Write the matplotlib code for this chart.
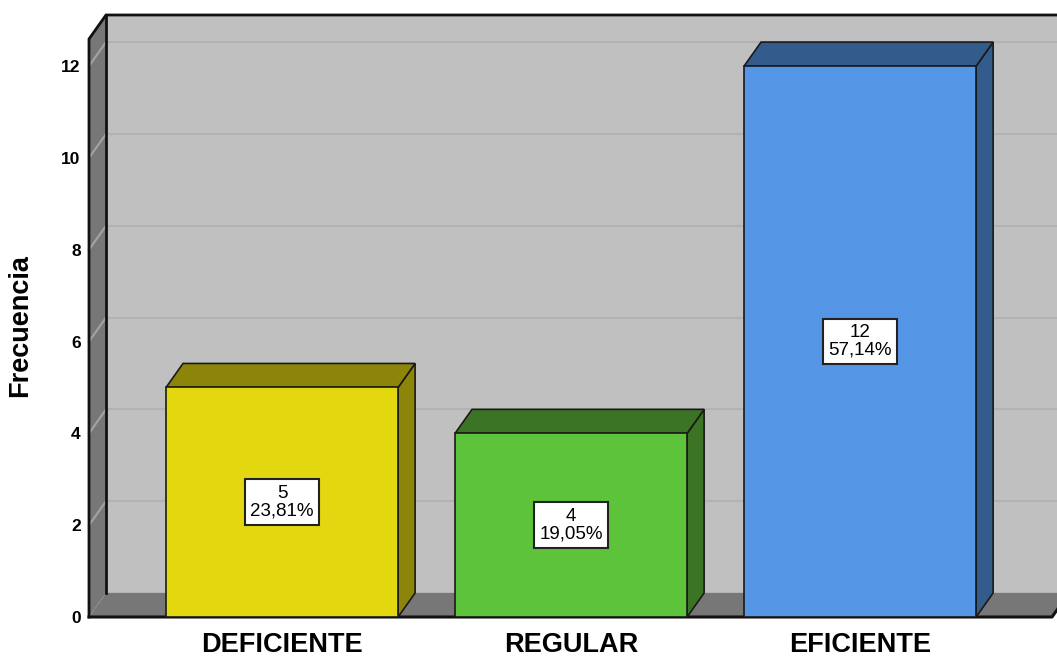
import matplotlib
matplotlib.use('Agg')
from matplotlib import pyplot as plt
from matplotlib import transforms as mtransforms
from matplotlib.patches import Polygon, Rectangle

# datos
categorias = ['DEFICIENTE', 'REGULAR', 'EFICIENTE']
frecuencias = [5, 4, 12]
ticks_y = [0, 2, 4, 6, 8, 10, 12]

color_frente = ['#E3D70F', '#5CC33A', '#5596E6']
color_lado = ['#8C850A', '#3A7424', '#335B8C']

total = sum(frecuencias)
porcentajes = [f * 100 / total for f in frecuencias]

fig = plt.figure(figsize=(10.57, 6.57), dpi=100)
ax = fig.add_axes([89 / 1057, 40 / 657, 963 / 1057, 578 / 657])
xmin, xmax = -0.668, 2.664
ymax = 12.59
ax.set_xlim(xmin, xmax)
ax.set_ylim(0, ymax)

# profundidad 3D (pixeles -> datos)
inv = ax.transData.inverted()
p0 = ax.transData.transform((0, 0))
dx, dy = inv.transform(p0 + [17, 24]) - inv.transform(p0)

pared = '#777777'
fondo = '#C0C0C0'

# pared del fondo
ax.add_patch(Rectangle((xmin + dx, dy), (xmax - xmin) + 1, ymax, facecolor=fondo,
                       edgecolor='none', zorder=0, clip_on=False))
for v in ticks_y[1:]:
    ax.plot([xmin + dx, xmax + dx + 1], [v + dy, v + dy], color='#B2B2B2', lw=1.5,
            zorder=1, clip_on=False)
    ax.plot([xmin, xmin + dx], [v, v + dy], color='#A3A3A3', lw=1.5, zorder=2.2,
            clip_on=False)
ax.plot([xmin + dx, xmax + dx + 1], [dy, dy], color='#8A8A8A', lw=1, zorder=1, clip_on=False)

# pared izquierda y piso
ax.add_patch(Polygon([(xmin, 0), (xmin, ymax), (xmin + dx, ymax + dy), (xmin + dx, dy)],
                     facecolor=pared, edgecolor='none', zorder=2, clip_on=False))
ax.add_patch(Polygon([(xmin, 0), (xmax, 0), (xmax + dx, dy), (xmin + dx, dy)],
                     facecolor=pared, edgecolor='none', zorder=2, clip_on=False))

# bordes
ax.plot([xmin, xmin, xmin + dx, xmax + dx + 1], [0, ymax, ymax + dy, ymax + dy],
        color='#111111', lw=2, zorder=2.3, clip_on=False, solid_joinstyle='miter')
ax.plot([xmin + dx, xmin + dx], [dy, ymax + dy], color='#111111', lw=2, zorder=2.3,
        clip_on=False)
ax.plot([xmin, xmax, xmax + dx], [0, 0, dy], color='#111111', lw=2.2, zorder=2.3,
        clip_on=False)

# barras
ancho = 0.803
xs = list(range(len(categorias)))
ax.bar(xs, frecuencias, width=ancho, color=color_frente, edgecolor='#1A1A1A', lw=1.2,
       zorder=4)
for x, v, c in zip(xs, frecuencias, color_lado):
    izq, der = x - ancho / 2, x + ancho / 2
    ax.add_patch(Polygon([(der, 0), (der, v), (der + dx, v + dy), (der + dx, dy)],
                         facecolor=c, edgecolor='#1A1A1A', lw=1.2, zorder=3,
                         clip_on=False))
    ax.add_patch(Polygon([(izq, v), (der, v), (der + dx, v + dy), (izq + dx, v + dy)],
                         facecolor=c, edgecolor='#1A1A1A', lw=1.2, zorder=3,
                         clip_on=False))

for x, v, p in zip(xs, frecuencias, porcentajes):
    txt = f"{v}\n{p:.2f}%".replace('.', ',')
    ax.text(x, v / 2, txt, ha='center', va='center', fontsize=13.5,
            family='Liberation Sans', linespacing=1.05, zorder=6,
            bbox=dict(boxstyle='square,pad=0.3', facecolor='white',
                      edgecolor='#222222', lw=1.5))

# ejes
for s in ax.spines.values():
    s.set_visible(False)
ax.set_yticks(ticks_y)
ax.set_yticklabels([str(t) for t in ticks_y], fontweight='bold', fontsize=12.5,
                   family='Liberation Sans')
abajo = mtransforms.ScaledTranslation(0, -3 / 100, fig.dpi_scale_trans)
for lab in ax.get_yticklabels():
    lab.set_transform(lab.get_transform() + abajo)
ax.set_xticks(xs)
ax.set_xticklabels(categorias, fontweight='bold', fontsize=19.5, family='Liberation Sans')
ax.tick_params(axis='y', length=0, pad=6)
ax.tick_params(axis='x', length=0, pad=11)
ax.set_ylabel('Frecuencia', fontweight='bold', fontsize=19.5, family='Liberation Sans')
ax.yaxis.set_label_coords(-0.0585, 0.505)
ax.patch.set_visible(False)

fig.savefig('out.png', dpi=100)
